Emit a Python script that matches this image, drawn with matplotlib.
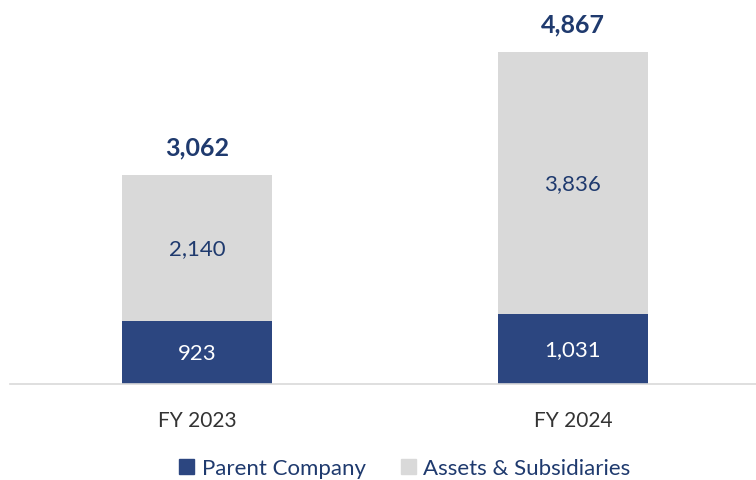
import matplotlib
matplotlib.use("Agg")
import matplotlib.pyplot as plt
from matplotlib.patches import Patch

categories = ["FY 2023", "FY 2024"]
parent = [923, 1031]
assets = [2140, 3836]
totals = [3062, 4867]

plt.rcParams['font.family'] = ['Lato', 'DejaVu Sans']

navy = "#2C4680"
gray = "#D9D9D9"
txt_navy = "#1F3A6E"

fig = plt.figure(figsize=(7.56, 4.81), dpi=100)
ax = fig.add_axes([10/756, 96/481, 746/756, 385/481])

x = list(range(len(categories)))
w = 0.4
b1 = ax.bar(x, parent, width=w, color=navy, zorder=2)
b2 = ax.bar(x, assets, width=w, bottom=parent, color=gray, zorder=2)

for i in x:
    ax.text(i, parent[i] / 2, f"{parent[i]:,}", ha="center", va="center",
            color="white", fontsize=16)
    ax.text(i, parent[i] + assets[i] / 2, f"{assets[i]:,}", ha="center", va="center",
            color=txt_navy, fontsize=16)
    ax.annotate(f"{totals[i]:,}", (i, parent[i] + assets[i]), xytext=(0, 12),
                textcoords="offset points", ha="center", va="bottom",
                color=txt_navy, fontsize=18, fontweight="bold")

ax.set_xlim(-0.497, 1.487)
ax.set_ylim(0, 5644)
ax.set_xticks(x)
ax.set_xticklabels(categories, fontsize=15, color="#333333")
ax.tick_params(axis="x", length=0, pad=19)
ax.set_yticks([])
for s in ["top", "right", "left"]:
    ax.spines[s].set_visible(False)
ax.spines["bottom"].set_color("#D9D9D9")
ax.spines["bottom"].set_linewidth(1.2)
ax.set_facecolor("none")

handles = [Patch(color=navy, label="Parent Company"), Patch(color=gray, label="Assets & Subsidiaries")]
leg = fig.legend(handles=handles, loc="center", bbox_to_anchor=(405/756, 1 - 469/481), ncol=2,
                 frameon=False, fontsize=16, handlelength=0.65, handleheight=0.65,
                 columnspacing=1.6, handletextpad=0.35)
for t in leg.get_texts():
    t.set_color(txt_navy)

fig.savefig("out.png", dpi=100)
